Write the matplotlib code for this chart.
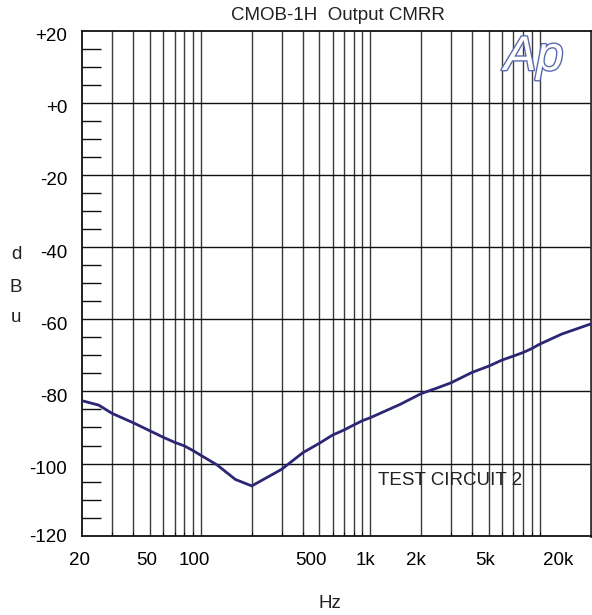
import matplotlib
matplotlib.use("Agg")
import matplotlib.pyplot as plt
import matplotlib.transforms as mtransforms
import matplotlib.patheffects as pe
from matplotlib.ticker import FixedLocator, NullFormatter

plt.rcParams['font.family'] = ['Liberation Sans', 'DejaVu Sans']

# ---- data ----
freqs = [20, 25, 30, 40, 50, 60, 70, 80, 90, 100, 125, 160, 200, 300, 400, 500,
         600, 700, 800, 900, 1000, 1500, 2000, 2500, 3000, 4000, 5000, 6000,
         7000, 8000, 9000, 10000, 13500, 20000]
dbu = [-82.6, -83.8, -86.1, -88.7, -90.9, -92.7, -94.1, -95.1, -96.4, -97.7,
       -100.4, -104.4, -106.2, -101.6, -97.0, -94.4, -92.1, -90.7, -89.3, -88.1,
       -87.3, -83.6, -80.6, -79.0, -77.6, -74.7, -73.0, -71.3, -70.2, -69.2,
       -68.1, -66.9, -64.1, -61.3]
xtick_vals = [20, 50, 100, 500, 1000, 2000, 5000, 20000]
xtick_labels = ['20', '50', '100', '500', '1k', '2k', '5k', '20k']
ytick_vals = [20, 0, -20, -40, -60, -80, -100, -120]
ytick_labels = ['+20', '+0', '-20', '-40', '-60', '-80', '-100', '-120']
vgrid = [30, 40, 50, 60, 70, 80, 90, 100, 200, 300, 400, 500, 600, 700, 800,
         900, 1000, 2000, 3000, 4000, 5000, 6000, 7000, 8000, 9000, 10000]
ymin_ticks = [15, 10, 5, -5, -10, -15, -25, -30, -35, -45, -50, -55, -65, -70,
              -75, -85, -90, -95, -105, -110, -115]

W, H = 592, 615
fig = plt.figure(figsize=(W / 100, H / 100), dpi=100)
ax = fig.add_axes([82.3 / W, 1 - 535.7 / H, (590.7 - 82.3) / W, (535.7 - 30.7) / H])

ax.set_xscale('log')
ax.set_xlim(20, 20000)
ax.set_ylim(-120, 20)

# grid
for v in vgrid:
    ax.axvline(v, color='#3a3a3a', lw=1.0, zorder=1)
for v in ytick_vals[1:-1]:
    ax.axhline(v, color='#111111', lw=1.0, zorder=1)

ax.plot(freqs, dbu, color='#2b2675', lw=2.0, zorder=3, solid_joinstyle='round')

for s in ax.spines.values():
    s.set_color('#111111')
    s.set_linewidth(1.3)
ax.spines['right'].set_color('#333a3a')
ax.spines['right'].set_linewidth(2)

FS = 13.5

# y ticks
ax.set_yticks(ytick_vals)
ax.set_yticklabels(ytick_labels, fontsize=FS)
ax.yaxis.set_minor_locator(FixedLocator(ymin_ticks))
ax.tick_params(axis='y', which='major', length=0, pad=11)
ax.tick_params(axis='y', which='minor', direction='in', length=14, width=1.0,
               color='#111111')
for i, lab in enumerate(ax.get_yticklabels()):
    dy = 0 if i == len(ytick_vals) - 1 else -4
    lab.set_transform(lab.get_transform() +
                      mtransforms.ScaledTranslation(0, dy / 100, fig.dpi_scale_trans))

# x ticks
ax.set_xticks(xtick_vals)
ax.set_xticklabels(xtick_labels, fontsize=FS)
ax.xaxis.set_minor_locator(FixedLocator(vgrid))
ax.xaxis.set_minor_formatter(NullFormatter())
ax.tick_params(axis='x', which='major', length=0, pad=12)
ax.tick_params(axis='x', which='minor', direction='in', length=3, width=0.8)
xoffs = [-3, -3, -6, -8, -5, -5, -4, -33]
for lab, dx in zip(ax.get_xticklabels(), xoffs):
    lab.set_transform(lab.get_transform() +
                      mtransforms.ScaledTranslation(dx / 100, 0, fig.dpi_scale_trans))

# texts
fig.text(338 / W, 1 - 15 / H, 'CMOB-1H  Output CMRR', fontsize=FS,
         ha='center', va='center', color='#222222')
fig.text(330 / W, 1 - 603 / H, 'Hz', fontsize=FS, ha='center', va='center',
         color='#222222')
for ch, yy in zip(['d', 'B', 'u'], [255, 287, 318]):
    fig.text(16 / W, 1 - yy / H, ch, fontsize=FS, ha='center', va='center',
             color='#222222')
ax.text(1117, -104.6, 'TEST CIRCUIT 2', fontsize=FS, ha='left', va='center',
        color='#222222', zorder=4)

# Ap logo
fig.text(504 / W, 1 - 70 / H, 'Ap', fontsize=35, style='italic', ha='left',
         va='baseline', color='white', zorder=5,
         path_effects=[pe.withStroke(linewidth=2.0, foreground='#5a6aae')])

fig.savefig('out.png', dpi=100)
